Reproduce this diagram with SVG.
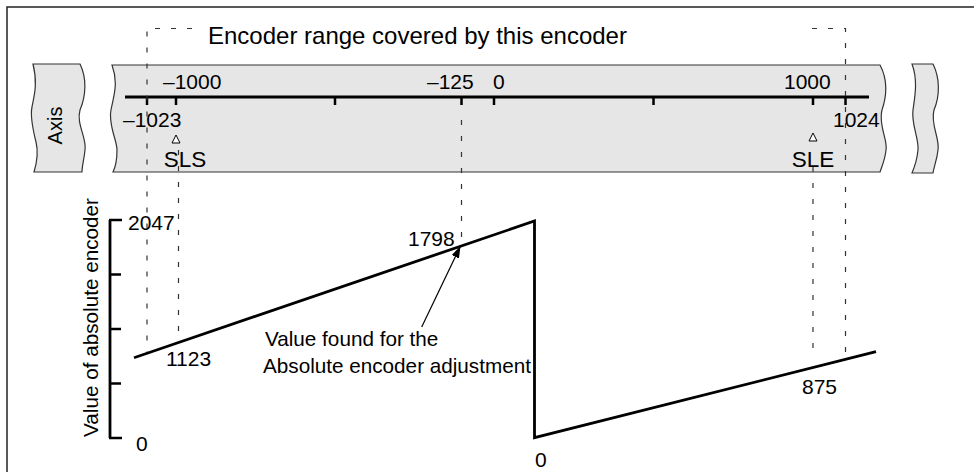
<svg xmlns="http://www.w3.org/2000/svg" width="974" height="472" viewBox="0 0 974 472">
<defs>
<style>
text{font-family:"Liberation Sans",Arial,sans-serif;fill:#000}
.t21{font-size:21px}
.t20{font-size:20.7px}
.band{fill:#e6e6e6;stroke:#333;stroke-width:1.2}
.dash{fill:none;stroke:#333;stroke-width:1.2;stroke-dasharray:5 11}
.thick{fill:none;stroke:#000;stroke-width:2.8;stroke-linejoin:miter}
.tick{stroke:#000;stroke-width:2.5}
.tri{fill:#fff;stroke:#000;stroke-width:1}
</style>
<marker id="ah" viewBox="0 0 12 8" refX="12" refY="4" markerWidth="12" markerHeight="8" markerUnits="userSpaceOnUse" orient="auto">
<path d="M0,0 L12,4 L0,8 Z" fill="#000"/>
</marker>
</defs>
<rect width="974" height="472" fill="#fff"/>
<g id="frame">
<path d="M7,480 L7,7 L980,7" fill="none" stroke="#222" stroke-width="1.5"/>
</g>
<g id="axis-piece">
<path class="band" d="M33,64 L80,64 C87,78 86,96 80,110 C76,124 87,138 85,150 C84,160 82,166 82,172 L34,172 C37,162 38,150 36,142 C33,130 30,116 32,107 C34,96 38,84 33,64 Z"/>
<text transform="translate(62,125.5) rotate(-90)" text-anchor="middle" style="font-size:20px">Axis</text>
</g>
<g id="encoder-band">
<path class="band" d="M112,65 L880,65 C887,78 888,92 882,110 C878,125 888,140 886,150 C885,160 882,166 880,172 L113,172 C116,166 117,160 117,150 C117,140 108,125 111,110 C113,98 119,84 112,65 Z"/>
<line x1="125" y1="97" x2="869" y2="97" stroke="#000" stroke-width="3"/>
<g class="tick">
<line x1="147" y1="97" x2="147" y2="105"/>
<line x1="176" y1="97" x2="176" y2="105"/>
<line x1="335" y1="97" x2="335" y2="105"/>
<line x1="461.5" y1="97" x2="461.5" y2="105"/>
<line x1="494" y1="97" x2="494" y2="105"/>
<line x1="653.5" y1="97" x2="653.5" y2="105"/>
<line x1="813" y1="97" x2="813" y2="105"/>
<line x1="845.5" y1="97" x2="845.5" y2="105"/>
</g>
<text class="t21" x="163" y="89">–1000</text>
<text class="t21" x="427" y="89">–125</text>
<text class="t21" x="493" y="89">0</text>
<text class="t21" x="784" y="89">1000</text>
<text class="t21" x="123" y="127">–1023</text>
<text class="t21" x="833" y="127">1024</text>
<path class="tri" d="M176,135 L180,143 L172,143 Z"/>
<path class="tri" d="M813,133 L817,141 L809,141 Z"/>
<text x="185" y="167" text-anchor="middle" style="font-size:22.5px">SLS</text>
<text x="813" y="167" text-anchor="middle" style="font-size:22.5px">SLE</text>
</g>
<g id="right-piece">
<path class="band" d="M912,64 L933,64 C940,78 940,96 934,110 C930,124 940,138 938,150 C937,160 934,166 933,173 L912,173 C915,166 917,160 918,150 C919,138 911,124 913,110 C915,96 918,80 912,64 Z"/>
</g>
<g id="title">
<text x="208" y="44" style="font-size:24px">Encoder range covered by this encoder</text>
</g>
<g id="connectors">
<path class="dash" d="M192,28.5 L147,28.5 L147,352"/>
<path class="dash" d="M812,28.5 L845.5,28.5 L845.5,356"/>
<line class="dash" x1="178.5" y1="150" x2="178.5" y2="342"/>
<line class="dash" x1="461.5" y1="120" x2="461.5" y2="244"/>
<line class="dash" x1="813" y1="167" x2="813" y2="356"/>
<line x1="421.7" y1="327" x2="460.5" y2="246" stroke="#000" stroke-width="1.2" marker-end="url(#ah)"/>
</g>
<g id="chart">
<path class="thick" d="M110,220 L110,438"/>
<g class="tick">
<line x1="109" y1="220" x2="122" y2="220"/>
<line x1="110" y1="274.5" x2="121" y2="274.5"/>
<line x1="110" y1="329" x2="121" y2="329"/>
<line x1="110" y1="383.5" x2="121" y2="383.5"/>
<line x1="109" y1="438" x2="122" y2="438"/>
</g>
<text class="t20" transform="translate(98,317.5) rotate(-90)" text-anchor="middle">Value of absolute encoder</text>
<text class="t21" x="128" y="230">2047</text>
<text class="t21" x="136" y="451">0</text>
<path class="thick" d="M134,357.7 L534.5,221 L534.5,437.7 L876,351.7"/>
<text class="t21" x="166" y="366">1123</text>
<text class="t21" x="408" y="246">1798</text>
<text class="t21" x="802" y="394">875</text>
<text class="t21" x="535" y="467">0</text>
<text class="t20" x="265" y="346">Value found for the</text>
<text class="t20" x="263" y="373">Absolute encoder adjustment</text>
</g>
</svg>
